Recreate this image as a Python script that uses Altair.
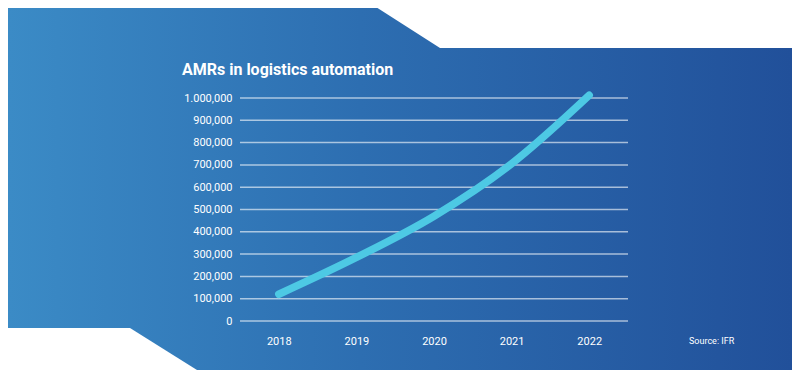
import altair as alt
import pandas as pd

years = ["2018", "2019", "2020", "2021", "2022"]
amrs = [120000, 285000, 470000, 705000, 1012000]
y_ticks = [0, 100000, 200000, 300000, 400000, 500000, 600000, 700000, 800000, 900000, 1000000]
title_text = "AMRs in logistics automation"
source_text = "Source: IFR"

df = pd.DataFrame({"year": years, "amrs": amrs})
grid_df = pd.DataFrame({"amrs": y_ticks})
one = alt.Data(values=[{}])

W, H = 388, 223
PL, PT = 232, 90
TOTAL_W, TOTAL_H = 784, 362

grad = alt.Gradient(
    gradient="linear",
    stops=[
        alt.GradientStop(color="#3b8bc6", offset=0),
        alt.GradientStop(color="#2d6eb1", offset=0.45),
        alt.GradientStop(color="#21509a", offset=1),
    ],
    x1=0, x2=1, y1=0, y2=0,
)

bg = alt.Chart(one).mark_rect(fill=grad).encode(
    x=alt.value(-PL), x2=alt.value(TOTAL_W - PL),
    y=alt.value(-PT), y2=alt.value(TOTAL_H - PT),
)

# white cut-out corners of the background panel
tr_rect = alt.Chart(one).mark_rect(fill="white").encode(
    x=alt.value(432 - PL), x2=alt.value(TOTAL_W - PL + 2),
    y=alt.value(-PT - 2), y2=alt.value(40 - PT),
)
tr_tri = alt.Chart(one).mark_point(
    shape="M -1 -1 L 1 -1 L 1 0.28 Z", filled=True, fill="white", opacity=1, strokeWidth=0, size=62.5 ** 2
).encode(x=alt.value(400.75 - PL), y=alt.value(31.25 - PT))
bl_rect = alt.Chart(one).mark_rect(fill="white").encode(
    x=alt.value(-PL - 2), x2=alt.value(122 - PL),
    y=alt.value(320 - PT), y2=alt.value(TOTAL_H - PT + 2),
)
bl_tri = alt.Chart(one).mark_point(
    shape="M -1 -1 L 1 0.254 L -1 0.254 Z", filled=True, fill="white", opacity=1, strokeWidth=0, size=67 ** 2
).encode(x=alt.value(155.5 - PL), y=alt.value(353.5 - PT))

yscale = alt.Scale(domain=[0, 1000000], nice=False)
yaxis = alt.Axis(title=None, values=y_ticks, domain=False, ticks=False, grid=False, zindex=1,
                 labelOverlap=False,
                 labelExpr="datum.value >= 999999 ? '1.000,000' : format(datum.value, ',')",
                 labelColor="white", labelFontSize=11, labelPadding=8, labelFont="Roboto")

grid = alt.Chart(grid_df).mark_rule(color="white", opacity=0.6, strokeWidth=1.5).encode(
    y=alt.Y("amrs:Q", scale=yscale, axis=yaxis),
    x=alt.value(0), x2=alt.value(W),
)

line = alt.Chart(df).mark_line(
    interpolate="monotone", strokeWidth=7.5, strokeCap="round", color="#4dc9e4"
).encode(
    x=alt.X("year:O", scale=alt.Scale(type="point", padding=0.5),
            axis=alt.Axis(title=None, labelAngle=0, domain=False, ticks=False, grid=False, zindex=1,
                          labelColor="white", labelFontSize=11, labelPadding=14, labelFont="Roboto")),
    y=alt.Y("amrs:Q", scale=yscale, axis=yaxis),
)

title = alt.Chart(one).mark_text(
    text=title_text, align="left", baseline="middle", font="Roboto", fontSize=16,
    fontWeight="bold", color="white"
).encode(x=alt.value(182 - 240), y=alt.value(70 - 98))

source = alt.Chart(one).mark_text(
    text=source_text, align="left", baseline="middle", font="Roboto", fontSize=9, color="white"
).encode(x=alt.value(689 - 240), y=alt.value(341 - 98))

chart = alt.layer(bg, tr_rect, tr_tri, bl_rect, bl_tri, grid, line, title, source).properties(
    width=W, height=H,
    padding={"left": PL, "top": PT, "right": TOTAL_W - PL - W, "bottom": TOTAL_H - PT - H},
    autosize=alt.AutoSizeParams(type="none"),
).configure_view(stroke=None)

chart.save("out.html", embed_options={"renderer": "svg", "actions": False})
